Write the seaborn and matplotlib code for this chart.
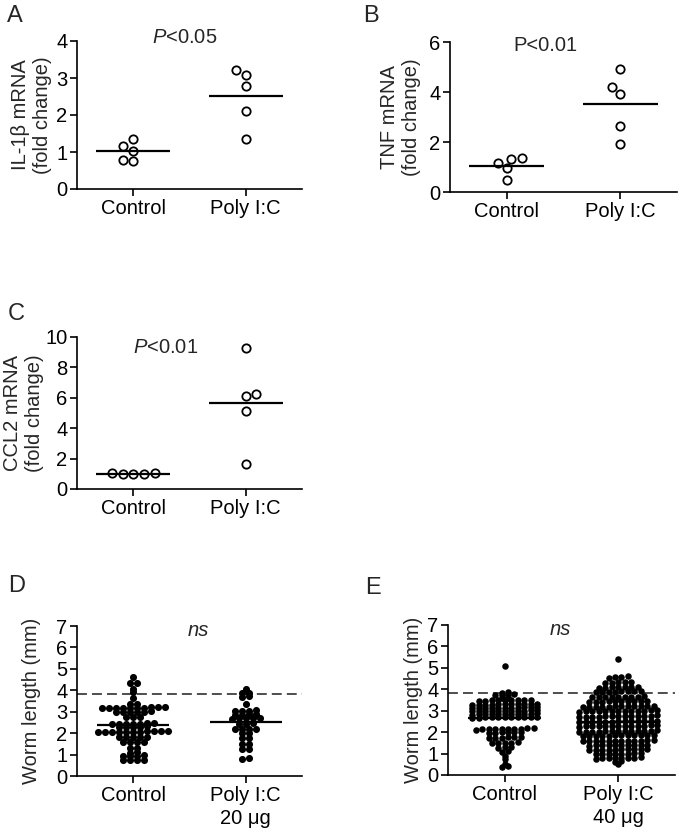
import numpy as np
import pandas as pd
import seaborn as sns
import matplotlib
matplotlib.use("Agg")
import matplotlib.pyplot as plt

# panel A - IL-1b fold change
il1b_control = [1.35, 1.04, 1.15, 0.76, 0.79]
il1b_polyic = [3.21, 3.08, 2.78, 2.11, 1.35]

# panel B - TNF fold change
tnf_control = [1.37, 1.17, 0.96, 1.33, 0.47]
tnf_polyic = [4.93, 3.93, 4.20, 2.64, 1.91]

# panel C - CCL2 fold change
ccl2_control = [1.02, 1.00, 0.98, 1.05, 0.97]
ccl2_polyic = [9.27, 6.15, 6.23, 5.15, 1.63]

# panel D - worm length, 20 ug
worm_d_control = [4.60,
                  4.35, 4.32,
                  4.05, 3.90, 3.62,
                  3.36, 3.34,
                  3.20, 3.18, 3.19, 3.17, 3.21, 3.16, 3.18, 3.20, 3.19, 3.17,
                  3.01, 2.99, 3.00, 2.98, 3.02, 3.00,
                  2.76, 2.74, 2.75,
                  2.46, 2.44, 2.45, 2.43, 2.47, 2.45, 2.44,
                  2.31, 2.29, 2.30, 2.28, 2.32,
                  2.08, 2.06, 2.07, 2.05, 2.09, 2.06, 2.08, 2.07, 2.05, 2.09, 2.06,
                  1.83, 1.81, 1.82, 1.80, 1.84,
                  1.61, 1.59, 1.60, 1.58,
                  1.31, 1.29,
                  1.11, 1.09,
                  0.96, 0.94, 0.95, 0.93,
                  0.76, 0.74, 0.75, 0.73]
worm_d_polyic = [4.08,
                 3.89, 3.87,
                 3.73, 3.71,
                 3.35,
                 3.06, 3.04, 3.05, 3.03,
                 2.89, 2.87, 2.88, 2.86,
                 2.71, 2.69, 2.70, 2.68, 2.72,
                 2.46, 2.44, 2.45,
                 2.21, 2.19, 2.20, 2.18,
                 2.01, 1.99,
                 1.79, 1.77,
                 1.51, 1.49,
                 1.26, 1.24,
                 0.83, 0.81]

# panel E - worm length, 40 ug
worm_e_control = [5.10,
                  3.88, 3.82,
                  3.76, 3.74, 3.72, 3.75,
                  3.60, 3.58,
                  3.52, 3.50, 3.48, 3.50, 3.47, 3.52, 3.49, 3.51, 3.46,
                  3.32, 3.30, 3.28, 3.31, 3.29, 3.33, 3.27, 3.30, 3.32, 3.28, 3.30,
                  3.16, 3.14, 3.15, 3.13, 3.17, 3.12, 3.15, 3.16, 3.14, 3.13, 3.15,
                  3.01, 2.99, 3.00, 2.98, 3.02, 3.00, 2.97, 3.01, 2.99, 3.00, 3.03,
                  2.86, 2.84, 2.85, 2.83, 2.87, 2.85, 2.82, 2.86, 2.84, 2.85, 2.88,
                  2.71, 2.69, 2.70, 2.68, 2.72, 2.70, 2.67, 2.71, 2.69, 2.70, 2.73,
                  2.18, 2.16, 2.15, 2.14, 2.17, 2.13, 2.15, 2.16, 2.12, 2.18,
                  2.01, 1.99, 2.00, 1.98, 2.02, 1.97,
                  1.77, 1.75, 1.74, 1.76, 1.73, 1.78,
                  1.52, 1.50, 1.48, 1.51, 1.49,
                  1.32, 1.30, 1.28,
                  1.12, 1.08,
                  0.90, 0.75, 0.52, 0.42, 0.36]
worm_e_polyic = [5.40,
                 4.60, 4.56, 4.58, 4.55,
                 4.36, 4.33, 4.30, 4.34, 4.31,
                 4.12, 4.10, 4.08, 4.11, 4.09, 4.07, 4.13,
                 3.91, 3.89, 3.90, 3.88, 3.92, 3.87, 3.90, 3.89,
                 3.66, 3.64, 3.65, 3.63, 3.67, 3.62, 3.65, 3.66, 3.64,
                 3.46, 3.44, 3.45, 3.43, 3.47, 3.42, 3.45, 3.46, 3.44, 3.43,
                 3.21, 3.19, 3.20, 3.18, 3.22, 3.17, 3.20, 3.21, 3.19, 3.18, 3.23, 3.20,
                 3.01, 2.99, 3.00, 2.98, 3.02, 2.97, 3.00, 3.01, 2.99, 2.98, 3.03, 3.00, 2.96,
                 2.76, 2.74, 2.75, 2.73, 2.77, 2.72, 2.75, 2.76, 2.74, 2.73, 2.78, 2.75, 2.71,
                 2.51, 2.49, 2.50, 2.48, 2.52, 2.47, 2.50, 2.51, 2.49, 2.48, 2.53, 2.50, 2.46,
                 2.31, 2.29, 2.30, 2.28, 2.32, 2.27, 2.30, 2.31, 2.29, 2.28, 2.33, 2.30, 2.26,
                 2.06, 2.04, 2.05, 2.03, 2.07, 2.02, 2.05, 2.06, 2.04, 2.03, 2.08, 2.05, 2.01,
                 1.86, 1.84, 1.85, 1.83, 1.87, 1.82, 1.85, 1.86, 1.84, 1.83, 1.88, 1.85,
                 1.61, 1.59, 1.60, 1.58, 1.62, 1.57, 1.60, 1.61, 1.59, 1.58, 1.63, 1.60,
                 1.41, 1.39, 1.40, 1.38, 1.42, 1.37, 1.40, 1.41, 1.39, 1.38,
                 1.21, 1.19, 1.20, 1.18, 1.22, 1.17, 1.20, 1.21, 1.19, 1.18,
                 1.01, 0.99, 1.00, 0.98, 1.02, 0.97, 1.00, 0.99,
                 0.81, 0.79, 0.80, 0.78, 0.82, 0.77, 0.80, 0.79,
                 0.66, 0.63,
                 0.52]

worm_cutoff = 3.85

sns.set_style("ticks")
plt.rcParams['font.family'] = ['Liberation Sans', 'DejaVu Sans']
plt.rcParams['mathtext.fontset'] = 'custom'
plt.rcParams['mathtext.rm'] = 'Liberation Sans'
plt.rcParams['mathtext.it'] = 'Liberation Sans:italic'

FS = 14.5
W, H = 680, 833


def make_axes(fig, left, right, top, bottom):
    return fig.add_axes([left / W, 1 - bottom / H, (right - left) / W, (bottom - top) / H])


def row_offsets(values, dx, tol=0.08):
    # prism-style column scatter: similar values share a row, centred on the group
    values = np.asarray(values)
    order = np.argsort(values)
    offs = np.zeros(len(values))
    rows, current = [], [order[0]]
    for idx in order[1:]:
        if values[idx] - values[current[0]] > tol:
            rows.append(current)
            current = [idx]
        else:
            current.append(idx)
    rows.append(current)
    for row in rows:
        n = len(row)
        offs[row] = (np.arange(n) - (n - 1) / 2) * dx
    return offs


def style_axes(ax, ylabel, yticks, xlabels, labelpad):
    ax.set_xlim(-0.5, 1.5)
    ax.set_ylim(yticks[0], yticks[-1])
    ax.set_yticks(yticks)
    ax.set_xticks([0, 1])
    ax.set_xticklabels(xlabels, fontsize=FS, linespacing=1.3)
    ax.set_yticklabels([str(t) for t in yticks], fontsize=FS)
    ax.set_xlabel('')
    ax.set_ylabel(ylabel, fontsize=FS, linespacing=1.2, labelpad=labelpad)
    sns.despine(ax=ax)
    for side in ['left', 'bottom']:
        ax.spines[side].set_linewidth(1.2)
        ax.spines[side].set_color('black')
    ax.tick_params(direction='out', length=5, width=1.2, pad=2, colors='black')


def mean_lines(ax, control, treated, half=0.33):
    for i, vals in enumerate([control, treated]):
        ax.hlines(np.mean(vals), i - half, i + half, color='black', lw=1.6, zorder=5)


def open_panel(ax, control, treated, ylabel, yticks, labelpad=3):
    df = pd.DataFrame({
        'group': ['Control'] * len(control) + ['Poly I:C'] * len(treated),
        'value': control + treated,
    })
    sns.swarmplot(data=df, x='group', y='value', order=['Control', 'Poly I:C'],
                  color='white', edgecolor='black', linewidth=1.3, size=6, ax=ax)
    mean_lines(ax, control, treated)
    style_axes(ax, ylabel, yticks, ['Control', 'Poly I:C'], labelpad)


def worm_panel(ax, control, treated, dose_label, dx, dot_size, labelpad):
    df = pd.DataFrame({
        'x': np.concatenate([0 + row_offsets(control, dx), 1 + row_offsets(treated, dx)]),
        'value': control + treated,
    })
    ax.axhline(worm_cutoff, color='0.25', lw=1.3, ls=(0, (5.5, 2.8)), zorder=1)
    sns.scatterplot(data=df, x='x', y='value', color='black', s=dot_size,
                    linewidth=0, ax=ax, zorder=3, legend=False)
    mean_lines(ax, control, treated, half=0.32)
    style_axes(ax, 'Worm length (mm)', list(range(8)), ['Control', dose_label], labelpad)
    ax.text(0.5 + (0.08 if dx > 0.06 else -0.01), 6.8, 'ns', fontsize=FS,
            ha='center', va='center', style='italic')


fig = plt.figure(figsize=(W / 100, H / 100), dpi=100)

ax_a = make_axes(fig, 77, 302, 41, 189)
open_panel(ax_a, il1b_control, il1b_polyic, 'IL-1β mRNA\n(fold change)', [0, 1, 2, 3, 4], labelpad=3)
ax_a.text(0.46, 4.1, '$P$<0.05', fontsize=FS, ha='center', va='center')

ax_b = make_axes(fig, 450, 677, 42, 192)
open_panel(ax_b, tnf_control, tnf_polyic, 'TNF mRNA\n(fold change)', [0, 2, 4, 6], labelpad=6)
ax_b.text(0.34, 5.85, 'P<0.01', fontsize=FS, ha='center', va='center')

ax_c = make_axes(fig, 77, 302, 337, 489)
open_panel(ax_c, ccl2_control, ccl2_polyic, 'CCL2 mRNA\n(fold change)', [0, 2, 4, 6, 8, 10], labelpad=1)
ax_c.text(0.29, 9.33, '$P$<0.01', fontsize=FS, ha='center', va='center')

ax_d = make_axes(fig, 77, 302, 626, 776)
worm_panel(ax_d, worm_d_control, worm_d_polyic, 'Poly I:C\n20 μg', dx=0.062, dot_size=26, labelpad=11)

ax_e = make_axes(fig, 448, 675, 625, 775)
worm_panel(ax_e, worm_e_control, worm_e_polyic, 'Poly I:C\n40 μg', dx=0.057, dot_size=22, labelpad=3)

for letter, x, y in [('A', 7, 5), ('B', 363, 5), ('C', 8, 303), ('D', 8, 575), ('E', 365, 577)]:
    fig.text(x / W, 1 - y / H, letter, fontsize=17, ha='left', va='top')

fig.savefig('out.png', dpi=100)
